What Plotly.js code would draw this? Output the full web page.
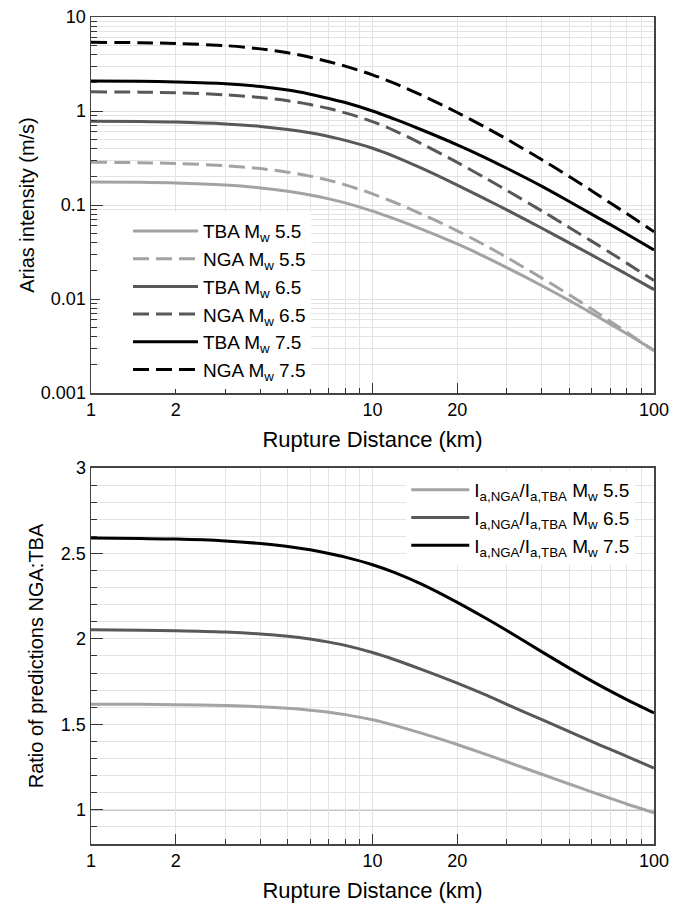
<!DOCTYPE html>
<html>
<head>
<meta charset="utf-8">
<script src="https://cdn.plot.ly/plotly-3.0.1.min.js"></script>
<style>html,body{margin:0;padding:0;background:#fff;}#chart{width:686px;height:903px;}</style>
</head>
<body>
<div id="chart"></div>
<script>
// ---- data ----
var dist = [1, 1.5, 2, 3, 4, 5, 6, 7, 8, 10, 12, 15, 20, 25, 30, 40, 50, 60, 70, 80, 100];

var tba55 = [0.176, 0.1745, 0.1716, 0.1628, 0.1521, 0.1402, 0.1281, 0.1163, 0.1053, 0.0862, 0.0712, 0.0551, 0.0385, 0.0283, 0.0216, 0.01384, 0.00964, 0.00708, 0.00541, 0.00428, 0.00286];
var nga55 = [0.285, 0.282, 0.277, 0.262, 0.244, 0.2235, 0.203, 0.183, 0.164, 0.1316, 0.1064, 0.0797, 0.0532, 0.0376, 0.0277, 0.0167, 0.0111, 0.00782, 0.00577, 0.00443, 0.00281];
var tba65 = [0.780, 0.774, 0.763, 0.729, 0.686, 0.637, 0.586, 0.536, 0.487, 0.402, 0.328, 0.245, 0.163, 0.117, 0.0887, 0.0566, 0.0396, 0.0295, 0.0229, 0.01835, 0.0126];
var nga65 = [1.60, 1.587, 1.563, 1.487, 1.392, 1.284, 1.171, 1.062, 0.955, 0.772, 0.616, 0.446, 0.284, 0.196, 0.143, 0.0864, 0.0577, 0.0413, 0.031, 0.0241, 0.0157];
var tba75 = [2.09, 2.07, 2.035, 1.95, 1.82, 1.67, 1.51, 1.36, 1.23, 1.0, 0.818, 0.628, 0.437, 0.322, 0.246, 0.158, 0.109, 0.080, 0.0618, 0.0492, 0.0333];
var nga75 = [5.38, 5.33, 5.22, 4.96, 4.58, 4.16, 3.73, 3.34, 3.0, 2.427, 1.965, 1.463, 0.964, 0.679, 0.502, 0.303, 0.201, 0.142, 0.105, 0.081, 0.052];

var ratio55 = [1.618, 1.617, 1.615, 1.610, 1.603, 1.594, 1.583, 1.571, 1.557, 1.527, 1.494, 1.447, 1.382, 1.327, 1.281, 1.208, 1.151, 1.105, 1.067, 1.034, 0.983];
var ratio65 = [2.053, 2.051, 2.048, 2.040, 2.029, 2.015, 1.999, 1.981, 1.962, 1.920, 1.878, 1.820, 1.741, 1.675, 1.617, 1.527, 1.457, 1.400, 1.353, 1.313, 1.244];
var ratio75 = [2.59, 2.587, 2.584, 2.573, 2.558, 2.541, 2.521, 2.500, 2.4785, 2.434, 2.388, 2.319, 2.214, 2.125, 2.049, 1.924, 1.829, 1.754, 1.694, 1.645, 1.567];

var xTickVals = [1, 2, 10, 20, 100];
var xTickText = ['1', '2', '10', '20', '100'];
var yTopTickVals = [0.001, 0.01, 0.1, 1, 10];
var yTopTickText = ['0.001', '0.01', '0.1', '1', '10'];
var yBotTickVals = [1, 1.5, 2, 2.5, 3];
var yBotTickText = ['1', '1.5', '2', '2.5', '3'];
var unityRatio = 1;

// ---- styling ----
var FONT = 'Liberation Sans, Arial, sans-serif';
var LIGHT = '#a3a3a3', MID = '#585858', DARK = '#000000';
var DASH = '16px,7px';
var GRID = '#e3e3e3';
var TICKFONT = {family: FONT, size: 18, color: '#000'};
var XTITLEFONT = {family: FONT, size: 22, color: '#000'};
var YTITLEFONT = {family: FONT, size: 20, color: '#000'};

// minor tick positions (decade sub-divisions)
var xMinor = [];
[1, 10].forEach(function (d) { for (var k = 3; k <= 9; k++) xMinor.push(k * d); });
var yTopMinor = [];
[0.001, 0.01, 0.1, 1].forEach(function (d) { for (var k = 2; k <= 9; k++) yTopMinor.push(+(k * d).toPrecision(3)); });

function sub(mag) { return 'M<sub>w</sub> ' + mag; }
function ratioName(mag) { return 'I<sub>a,NGA</sub>/I<sub>a,TBA</sub> ' + sub(mag); }

var W = 3;
var traces = [
  {x: dist, y: tba55, name: 'TBA ' + sub('5.5'), line: {color: LIGHT, width: W}},
  {x: dist, y: nga55, name: 'NGA ' + sub('5.5'), line: {color: LIGHT, width: W, dash: DASH}},
  {x: dist, y: tba65, name: 'TBA ' + sub('6.5'), line: {color: MID, width: W}},
  {x: dist, y: nga65, name: 'NGA ' + sub('6.5'), line: {color: MID, width: W, dash: DASH}},
  {x: dist, y: tba75, name: 'TBA ' + sub('7.5'), line: {color: DARK, width: W}},
  {x: dist, y: nga75, name: 'NGA ' + sub('7.5'), line: {color: DARK, width: W, dash: DASH}}
].map(function (t) {
  t.type = 'scatter'; t.mode = 'lines'; t.xaxis = 'x'; t.yaxis = 'y';
  t.line.shape = 'spline'; t.line.smoothing = 0.9; t.legend = 'legend';
  return t;
});

[
  {y: ratio55, name: ratioName('5.5'), color: LIGHT},
  {y: ratio65, name: ratioName('6.5'), color: MID},
  {y: ratio75, name: ratioName('7.5'), color: DARK}
].forEach(function (r) {
  traces.push({type: 'scatter', mode: 'lines', x: dist, y: r.y, name: r.name,
    xaxis: 'x2', yaxis: 'y2', legend: 'legend2',
    line: {color: r.color, width: W, shape: 'spline', smoothing: 0.9}});
});

function xAxis(anchor) {
  return {
    type: 'log', range: [0, 2], anchor: anchor,
    tickmode: 'array', tickvals: xTickVals, ticktext: xTickText,
    ticks: 'inside', ticklen: 10, tickwidth: 1, tickcolor: '#333',
    showline: true, linecolor: '#444', linewidth: 1.5, mirror: true,
    showgrid: true, gridcolor: GRID, gridwidth: 1, zeroline: false,
    minor: {tickmode: 'array', tickvals: xMinor, ticks: 'inside', ticklen: 5, tickcolor: '#333', showgrid: true, gridcolor: GRID, gridwidth: 1},
    tickfont: TICKFONT,
    title: {text: 'Rupture Distance (km)', font: XTITLEFONT, standoff: 12},
    automargin: false
  };
}

var layout = {
  width: 686, height: 903,
  margin: {l: 91, r: 32, t: 17, b: 59},
  paper_bgcolor: '#fff', plot_bgcolor: '#fff',
  font: {family: FONT, color: '#000'},
  showlegend: true,
  xaxis: xAxis('y'),
  xaxis2: xAxis('y2'),
  yaxis: {
    type: 'log', range: [-3, 1], domain: [0.5453, 1], anchor: 'x',
    tickmode: 'array', tickvals: yTopTickVals, ticktext: yTopTickText,
    ticks: 'inside', ticklen: 12, tickcolor: '#333',
    showline: true, linecolor: '#444', linewidth: 1.5, mirror: true,
    showgrid: true, gridcolor: GRID, zeroline: false,
    minor: {tickmode: 'array', tickvals: yTopMinor, ticks: 'inside', ticklen: 6, tickcolor: '#333', showgrid: true, gridcolor: GRID},
    tickfont: TICKFONT,
    title: {text: 'Arias intensity (m/s)', font: YTITLEFONT, standoff: 1},
    automargin: false
  },
  yaxis2: {
    range: [0.8, 3], domain: [0, 0.4547], anchor: 'x2',
    tickmode: 'array', tickvals: yBotTickVals, ticktext: yBotTickText,
    ticks: 'inside', ticklen: 12, tickcolor: '#333',
    showline: true, linecolor: '#444', linewidth: 1.5, mirror: true,
    showgrid: true, gridcolor: GRID, zeroline: false,
    minor: {dtick: 0.1, tick0: 0, ticks: 'inside', ticklen: 6, tickcolor: '#333', showgrid: true, gridcolor: GRID},
    tickfont: TICKFONT,
    title: {text: 'Ratio of predictions NGA:TBA', font: YTITLEFONT, standoff: 12},
    automargin: false
  },
  legend: {
    x: 0.0657, y: 0.764, xanchor: 'left', yanchor: 'top',
    bgcolor: '#fff', borderwidth: 0, itemwidth: 65, tracegroupgap: 0,
    font: {family: FONT, size: 19, color: '#000'}
  },
  legend2: {
    x: 0.56, y: 0.451, xanchor: 'left', yanchor: 'top',
    bgcolor: '#fff', borderwidth: 0, itemwidth: 58, tracegroupgap: 0,
    font: {family: FONT, size: 19, color: '#000'}
  },
  shapes: [
    {type: 'line', xref: 'x2 domain', yref: 'y2', x0: 0, x1: 1, y0: unityRatio, y1: unityRatio,
     line: {color: '#8c8c8c', width: 1.5}, layer: 'below'},
    // white strip continuing the top legend's background to its left
    {type: 'rect', xref: 'paper', yref: 'paper', x0: 0.016, x1: 0.066, y0: 0.5538, y1: 0.764,
     line: {width: 0}, fillcolor: '#fff', layer: 'above'}
  ]
};

Plotly.newPlot('chart', traces, layout, {displayModeBar: false, staticPlot: true});
</script>
</body>
</html>
